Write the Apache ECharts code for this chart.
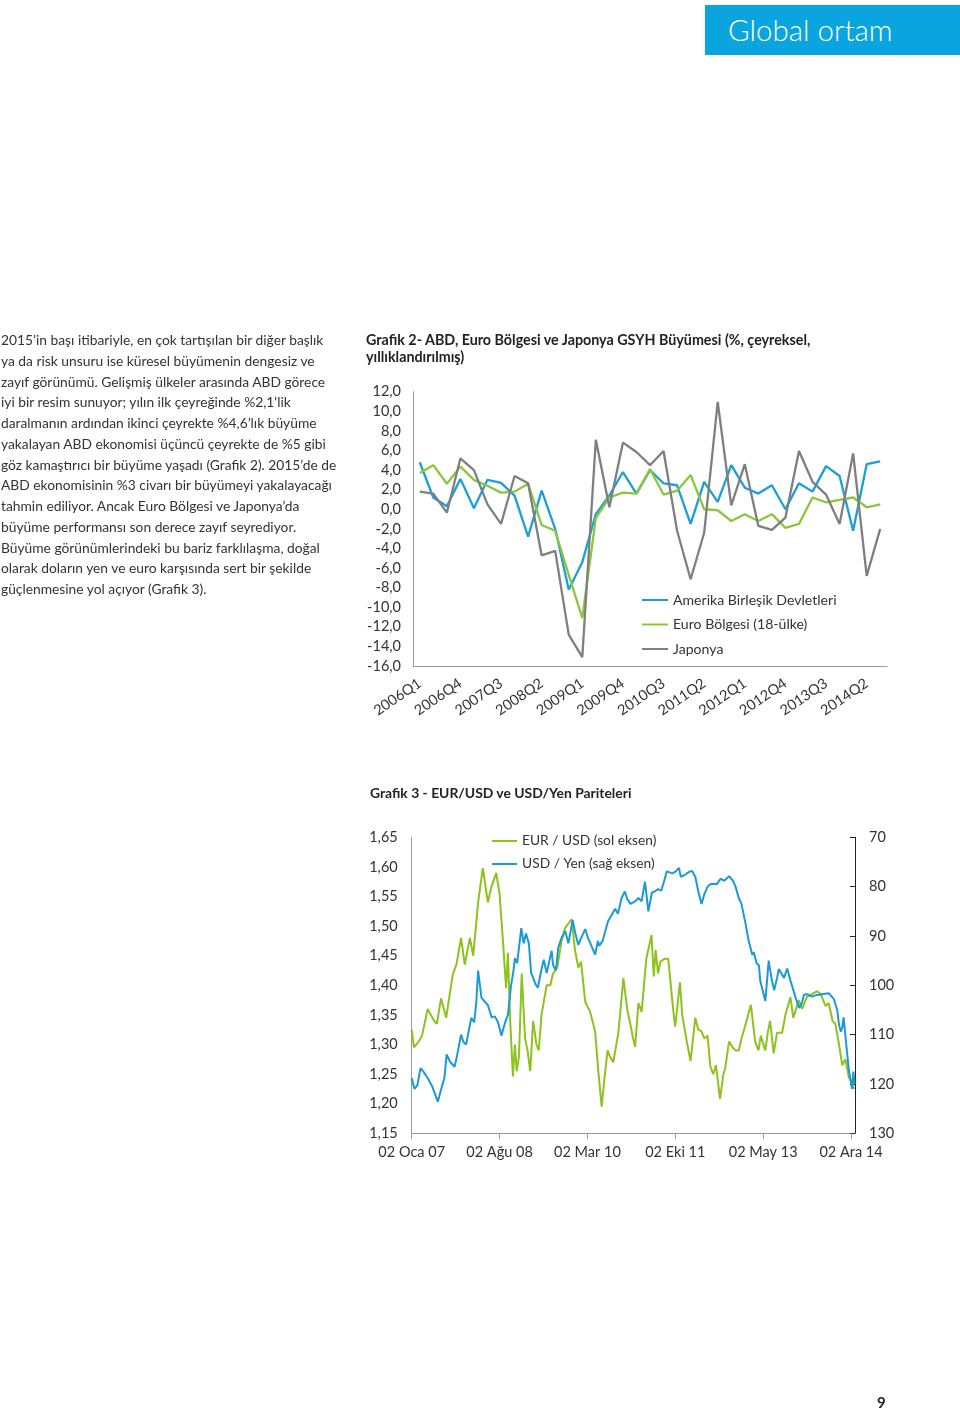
<!DOCTYPE html>
<html>
<head>
<meta charset="utf-8">
<script src="https://cdn.jsdelivr.net/npm/echarts@6/dist/echarts.min.js"></script>
<style>
  html, body { margin:0; padding:0; background:#fff; }
  body { width:960px; height:1410px; position:relative; overflow:hidden; font-family: Lato, "Open Sans", sans-serif; color:#333; }
  #chart { position:absolute; left:0; top:0; width:960px; height:1410px; }
  .abs { position:absolute; z-index:2; white-space:nowrap; }
  #hdr { left:705px; top:5px; width:255px; height:50px; background:#0aa5df; color:#fff; font-size:29.5px; font-weight:300; line-height:50px; padding-left:23px; box-sizing:border-box; }
  #para { left:1px; top:330px; font-size:13.8px; line-height:20.75px; color:#333; }
  .ttl { font-weight:700; color:#222; line-height:17px; }
  #t2 { left:366px; top:331px; font-size:14.3px; }
  #t3 { left:370px; top:784px; font-size:13.9px; }
  #pg { left:877px; top:1393px; font-size:15px; font-weight:700; color:#222; }
</style>
</head>
<body>
<div id="chart"></div>
<div id="hdr" class="abs">Global ortam</div>
<div id="para" class="abs">2015’in başı itibariyle, en çok tartışılan bir diğer başlık<br>ya da risk unsuru ise küresel büyümenin dengesiz ve<br>zayıf görünümü. Gelişmiş ülkeler arasında ABD görece<br>iyi bir resim sunuyor; yılın ilk çeyreğinde %2,1'lik<br>daralmanın ardından ikinci çeyrekte %4,6’lık büyüme<br>yakalayan ABD ekonomisi üçüncü çeyrekte de %5 gibi<br>göz kamaştırıcı bir büyüme yaşadı (Grafik 2). 2015’de de<br>ABD ekonomisinin %3 civarı bir büyümeyi yakalayacağı<br>tahmin ediliyor. Ancak Euro Bölgesi ve Japonya’da<br>büyüme performansı son derece zayıf seyrediyor.<br>Büyüme görünümlerindeki bu bariz farklılaşma, doğal<br>olarak doların yen ve euro karşısında sert bir şekilde<br>güçlenmesine yol açıyor (Grafik 3).</div>
<div id="t2" class="abs ttl">Grafik 2- ABD, Euro Bölgesi ve Japonya GSYH Büyümesi (%, çeyreksel,<br>yıllıklandırılmış)</div>
<div id="t3" class="abs ttl">Grafik 3 - EUR/USD ve USD/Yen Pariteleri</div>
<div id="pg" class="abs">9</div>
<script>
// ---------- Grafik 2 data ----------
const quarters = ["2006Q1","2006Q2","2006Q3","2006Q4","2007Q1","2007Q2","2007Q3","2007Q4",
  "2008Q1","2008Q2","2008Q3","2008Q4","2009Q1","2009Q2","2009Q3","2009Q4",
  "2010Q1","2010Q2","2010Q3","2010Q4","2011Q1","2011Q2","2011Q3","2011Q4",
  "2012Q1","2012Q2","2012Q3","2012Q4","2013Q1","2013Q2","2013Q3","2013Q4",
  "2014Q1","2014Q2","2014Q3"];
const abd = [4.8,1.2,0.3,3.1,0.1,3.0,2.7,1.4,-2.8,1.9,-2.0,-8.2,-5.4,-0.5,1.4,3.8,1.6,
  4.0,2.65,2.45,-1.5,2.8,0.75,4.5,2.2,1.6,2.45,0.0,2.65,1.8,4.4,3.4,-2.2,4.6,4.9];
const euroBolgesi = [3.7,4.5,2.6,4.35,3.0,2.4,1.7,1.8,2.6,-1.6,-2.2,-6.7,-11.1,-0.9,1.2,1.7,1.6,
  4.1,1.5,1.9,3.5,0.0,-0.1,-1.2,-0.5,-1.2,-0.5,-1.9,-1.5,1.2,0.7,0.95,1.2,0.2,0.5];
const japonya = [1.8,1.6,-0.35,5.2,4.0,0.5,-1.5,3.4,2.65,-4.7,-4.25,-12.8,-15.1,7.1,0.2,6.8,5.85,
  4.5,5.95,-2.2,-7.15,-2.4,10.95,0.4,4.6,-1.7,-2.1,-0.85,5.95,2.8,1.5,-1.5,5.7,-6.8,-2.0];
const names2 = ["Amerika Birleşik Devletleri","Euro Bölgesi (18-ülke)","Japonya"];

// ---------- Grafik 3 data ----------
const eurusd = [["2007-01-02",1.325],["2007-01-17",1.295],["2007-02-17",1.305],["2007-03-11",1.315],
 ["2007-04-17",1.36],["2007-05-29",1.34],["2007-06-17",1.335],["2007-07-14",1.378],["2007-08-17",1.345],
 ["2007-09-29",1.418],["2007-10-23",1.435],["2007-11-23",1.48],["2007-12-17",1.435],["2008-01-20",1.48],
 ["2008-02-11",1.45],["2008-03-14",1.54],["2008-04-14",1.598],["2008-05-17",1.54],["2008-06-08",1.565],
 ["2008-07-11",1.59],["2008-08-02",1.555],["2008-08-23",1.48],["2008-09-14",1.395],["2008-09-26",1.455],
 ["2008-10-11",1.34],["2008-10-29",1.246],["2008-11-11",1.30],["2008-11-23",1.255],["2008-12-08",1.28],
 ["2008-12-26",1.42],["2009-01-17",1.31],["2009-02-02",1.29],["2009-02-20",1.255],["2009-03-11",1.34],
 ["2009-04-02",1.30],["2009-04-17",1.29],["2009-05-05",1.35],["2009-06-08",1.40],["2009-07-02",1.40],
 ["2009-07-20",1.42],["2009-08-17",1.43],["2009-09-14",1.475],["2009-10-08",1.497],["2009-11-20",1.512],
 ["2009-12-11",1.46],["2010-01-02",1.43],["2010-01-20",1.44],["2010-02-17",1.372],["2010-03-20",1.356],
 ["2010-04-23",1.322],["2010-05-14",1.255],["2010-06-05",1.195],["2010-06-20",1.235],["2010-07-14",1.29],
 ["2010-07-29",1.28],["2010-08-20",1.27],["2010-09-23",1.32],["2010-10-26",1.412],["2010-11-08",1.385],
 ["2010-11-20",1.36],["2010-12-14",1.33],["2010-12-29",1.31],["2011-01-11",1.296],["2011-02-02",1.37],
 ["2011-02-23",1.355],["2011-03-26",1.445],["2011-04-29",1.485],["2011-05-14",1.415],["2011-05-26",1.46],
 ["2011-06-11",1.42],["2011-06-26",1.44],["2011-07-26",1.445],["2011-08-17",1.445],["2011-09-20",1.355],
 ["2011-10-02",1.33],["2011-11-02",1.405],["2011-11-17",1.35],["2011-12-17",1.305],["2012-01-11",1.272],
 ["2012-02-11",1.345],["2012-03-02",1.325],["2012-03-23",1.322],["2012-04-11",1.31],["2012-05-02",1.315],
 ["2012-05-20",1.263],["2012-06-08",1.25],["2012-06-26",1.265],["2012-07-23",1.208],["2012-08-14",1.25],
 ["2012-08-26",1.26],["2012-09-20",1.305],["2012-10-14",1.295],["2012-11-02",1.29],["2012-11-23",1.29],
 ["2012-12-11",1.31],["2013-01-08",1.335],["2013-02-11",1.367],["2013-03-11",1.305],["2013-04-02",1.29],
 ["2013-04-17",1.315],["2013-05-17",1.29],["2013-06-02",1.32],["2013-06-17",1.34],["2013-07-11",1.285],
 ["2013-08-02",1.32],["2013-09-05",1.32],["2013-09-26",1.35],["2013-10-29",1.38],["2013-11-17",1.345],
 ["2013-12-23",1.375],["2014-01-14",1.36],["2014-02-14",1.38],["2014-03-20",1.385],["2014-04-23",1.39],
 ["2014-05-17",1.385],["2014-06-17",1.365],["2014-07-08",1.37],["2014-08-02",1.34],["2014-08-20",1.335],
 ["2014-09-14",1.30],["2014-10-05",1.265],["2014-10-26",1.275],["2014-11-17",1.245],["2014-12-08",1.235],
 ["2014-12-23",1.225]];
const usdyen = [["2007-01-02",118.8],["2007-01-20",121.0],["2007-02-08",120.3],["2007-03-01",116.8],
 ["2007-03-20",117.5],["2007-04-17",118.8],["2007-05-17",120.5],["2007-06-23",123.6],["2007-07-11",121.5],
 ["2007-08-05",118.8],["2007-08-20",114.0],["2007-09-11",115.5],["2007-10-11",116.5],["2007-10-26",114.5],
 ["2007-11-23",110.0],["2007-12-08",111.5],["2007-12-26",112.0],["2008-01-29",106.6],["2008-02-17",107.5],
 ["2008-03-02",103.5],["2008-03-14",97.0],["2008-04-05",102.5],["2008-05-02",103.5],["2008-05-17",104.0],
 ["2008-06-11",106.5],["2008-07-02",106.3],["2008-07-23",107.5],["2008-08-14",110.2],["2008-09-08",107.5],
 ["2008-09-26",106.0],["2008-10-17",100.0],["2008-11-02",97.0],["2008-11-11",94.5],["2008-11-26",95.5],
 ["2008-12-23",88.4],["2009-01-08",91.5],["2009-01-23",89.5],["2009-02-11",91.5],["2009-02-26",97.5],
 ["2009-03-29",99.9],["2009-04-11",100.5],["2009-05-02",97.2],["2009-05-20",94.8],["2009-06-08",97.5],
 ["2009-06-26",95.0],["2009-07-11",93.0],["2009-07-20",95.9],["2009-08-08",97.0],["2009-08-23",92.4],
 ["2009-09-14",90.4],["2009-10-08",89.0],["2009-10-29",91.5],["2009-11-26",86.8],["2009-12-14",89.5],
 ["2010-01-02",91.8],["2010-01-20",90.5],["2010-02-17",88.6],["2010-03-08",90.5],["2010-03-20",91.3],
 ["2010-04-23",93.8],["2010-05-11",91.0],["2010-05-20",92.0],["2010-06-11",91.0],["2010-07-17",87.0],
 ["2010-08-05",86.0],["2010-09-02",84.5],["2010-09-20",85.5],["2010-10-14",82.3],["2010-11-05",81.0],
 ["2010-11-20",82.5],["2010-12-11",83.5],["2011-01-11",83.0],["2011-02-02",82.3],["2011-02-23",83.0],
 ["2011-03-17",79.0],["2011-04-08",85.0],["2011-05-02",81.2],["2011-05-20",81.0],["2011-06-11",80.5],
 ["2011-07-02",80.8],["2011-07-20",79.0],["2011-08-08",76.9],["2011-08-20",77.2],["2011-09-11",77.3],
 ["2011-10-02",77.0],["2011-10-26",76.2],["2011-11-08",78.0],["2011-12-05",77.6],["2012-01-02",77.0],
 ["2012-01-20",76.8],["2012-02-11",78.0],["2012-03-02",81.0],["2012-03-23",83.5],["2012-04-11",81.5],
 ["2012-05-02",80.0],["2012-05-20",79.5],["2012-06-11",79.4],["2012-07-02",79.5],["2012-07-26",78.4],
 ["2012-08-20",78.8],["2012-09-20",77.9],["2012-10-14",78.7],["2012-11-02",80.0],["2012-11-23",82.3],
 ["2012-12-11",83.5],["2013-01-08",87.7],["2013-01-26",90.8],["2013-02-20",93.8],["2013-03-02",93.3],
 ["2013-03-20",95.5],["2013-04-05",96.0],["2013-04-14",99.2],["2013-05-17",103.2],["2013-06-08",95.0],
 ["2013-06-29",99.0],["2013-07-14",101.0],["2013-08-02",98.5],["2013-08-14",96.7],["2013-09-17",98.5],
 ["2013-10-08",96.6],["2013-10-29",99.0],["2013-12-02",102.5],["2013-12-26",104.6],["2014-01-14",103.5],
 ["2014-01-26",101.9],["2014-02-17",101.8],["2014-03-20",102.3],["2014-04-17",102.0],["2014-05-26",101.8],
 ["2014-07-08",101.6],["2014-08-11",102.8],["2014-09-02",105.0],["2014-09-14",108.0],["2014-09-26",109.4],
 ["2014-10-05",108.6],["2014-10-14",106.5],["2014-11-02",112.5],["2014-11-17",117.0],["2014-12-08",121.0],
 ["2014-12-17",117.5],["2014-12-26",120.0]];
const startDate = "2007-01-02";
const endDate = "2014-12-28";
const tickDates = ["2007-01-02","2008-08-02","2010-03-02","2011-10-02","2013-05-02","2014-12-02"];
const tickLabels = ["02 Oca 07","02 Ağu 08","02 Mar 10","02 Eki 11","02 May 13","02 Ara 14"];
const names3 = ["EUR / USD (sol eksen)","USD / Yen (sağ eksen)"];

function ts(s){ const p = s.split('-').map(Number); return Date.UTC(p[0], p[1]-1, p[2]); }
const day0 = ts(startDate);
function dayOf(s){ return Math.round((ts(s) - day0) / 86400000); }
const tickDays = tickDates.map(dayOf);
const tickStep = tickDays[tickDays.length-1] / (tickDays.length-1);
const FONT = 'Lato';
const AX = '#9b9b9b';
const TXT = '#333';

function dateLabel(v){
  let b=-1, bd=Infinity;
  tickDays.forEach((t,i)=>{ const d=Math.abs(t-v); if(d<bd){bd=d;b=i;} });
  return bd < 5 ? tickLabels[b] : '';
}

const chart = echarts.init(document.getElementById('chart'), null, {renderer:'canvas'});
chart.setOption({
  animation:false,
  textStyle:{fontFamily:FONT},
  grid:[
    {left:413, top:391.7, width:474, height:274.3},
    {left:411.7, top:837.3, width:443.3, height:296}
  ],
  legend:[
    {data:names2, orient:'vertical', left:642, top:593, padding:0, icon:'rect', itemWidth:26, itemHeight:2,
     itemGap:10.5, textStyle:{fontFamily:FONT, fontSize:14.1, color:TXT}},
    {data:names3, orient:'vertical', left:492, top:834, padding:0, icon:'rect', itemWidth:25, itemHeight:2,
     itemGap:9, textStyle:{fontFamily:FONT, fontSize:13.8, color:TXT}}
  ],
  xAxis:[
    {gridIndex:0, type:'category', data:quarters, boundaryGap:true,
     axisLine:{onZero:false, lineStyle:{color:AX}}, axisTick:{interval:2, length:5, lineStyle:{color:AX}},
     axisLabel:{interval:2, rotate:34, fontFamily:FONT, fontSize:14.5, color:TXT, margin:16},
     splitLine:{show:false}},
    {gridIndex:1, type:'value', min:0, max:dayOf(endDate), interval:tickStep,
     axisLine:{onZero:false, lineStyle:{color:AX}},
     axisTick:{show:true, length:6, lineStyle:{color:AX}},
     axisLabel:{fontFamily:FONT, fontSize:14.5, color:TXT, margin:12, showMaxLabel:false,
       formatter:dateLabel},
     splitLine:{show:false}}
  ],
  yAxis:[
    {gridIndex:0, type:'value', min:-16, max:12, interval:2,
     axisLine:{show:true, onZero:false, lineStyle:{color:AX}}, axisTick:{show:false}, splitLine:{show:false},
     axisLabel:{fontFamily:FONT, fontSize:14.5, color:TXT, margin:12,
       formatter:v=>v.toFixed(1).replace('.',',')}},
    {gridIndex:1, type:'value', min:1.15, max:1.65, interval:0.05,
     axisLine:{show:true, onZero:false, lineStyle:{color:AX}}, axisTick:{show:false}, splitLine:{show:false},
     axisLabel:{fontFamily:FONT, fontSize:14.5, color:TXT, margin:14,
       formatter:v=>v.toFixed(2).replace('.',',')}},
    {gridIndex:1, type:'value', position:'right', inverse:true, min:70, max:130, interval:10,
     axisLine:{show:true, onZero:false, lineStyle:{color:'#222'}}, axisTick:{show:true, inside:true, length:5, lineStyle:{color:'#222'}},
     splitLine:{show:false},
     axisLabel:{fontFamily:FONT, fontSize:14.5, color:TXT, margin:14}}
  ],
  series:[
    {name:names2[0], type:'line', xAxisIndex:0, yAxisIndex:0, data:abd, showSymbol:false,
     color:'#1a9fd9', lineStyle:{width:2.3}},
    {name:names2[1], type:'line', xAxisIndex:0, yAxisIndex:0, data:euroBolgesi, showSymbol:false,
     color:'#8cc63f', lineStyle:{width:2.3}},
    {name:names2[2], type:'line', xAxisIndex:0, yAxisIndex:0, data:japonya, showSymbol:false,
     color:'#7f7f7f', lineStyle:{width:2.3}},
    {name:names3[0], type:'line', xAxisIndex:1, yAxisIndex:1, showSymbol:false,
     data:eurusd.map(d=>[dayOf(d[0]), d[1]]), color:'#8dc21f', lineStyle:{width:2}},
    {name:names3[1], type:'line', xAxisIndex:1, yAxisIndex:2, showSymbol:false,
     data:usdyen.map(d=>[dayOf(d[0]), d[1]]), color:'#1b9ad6', lineStyle:{width:2}}
  ]
});
</script>
</body>
</html>
